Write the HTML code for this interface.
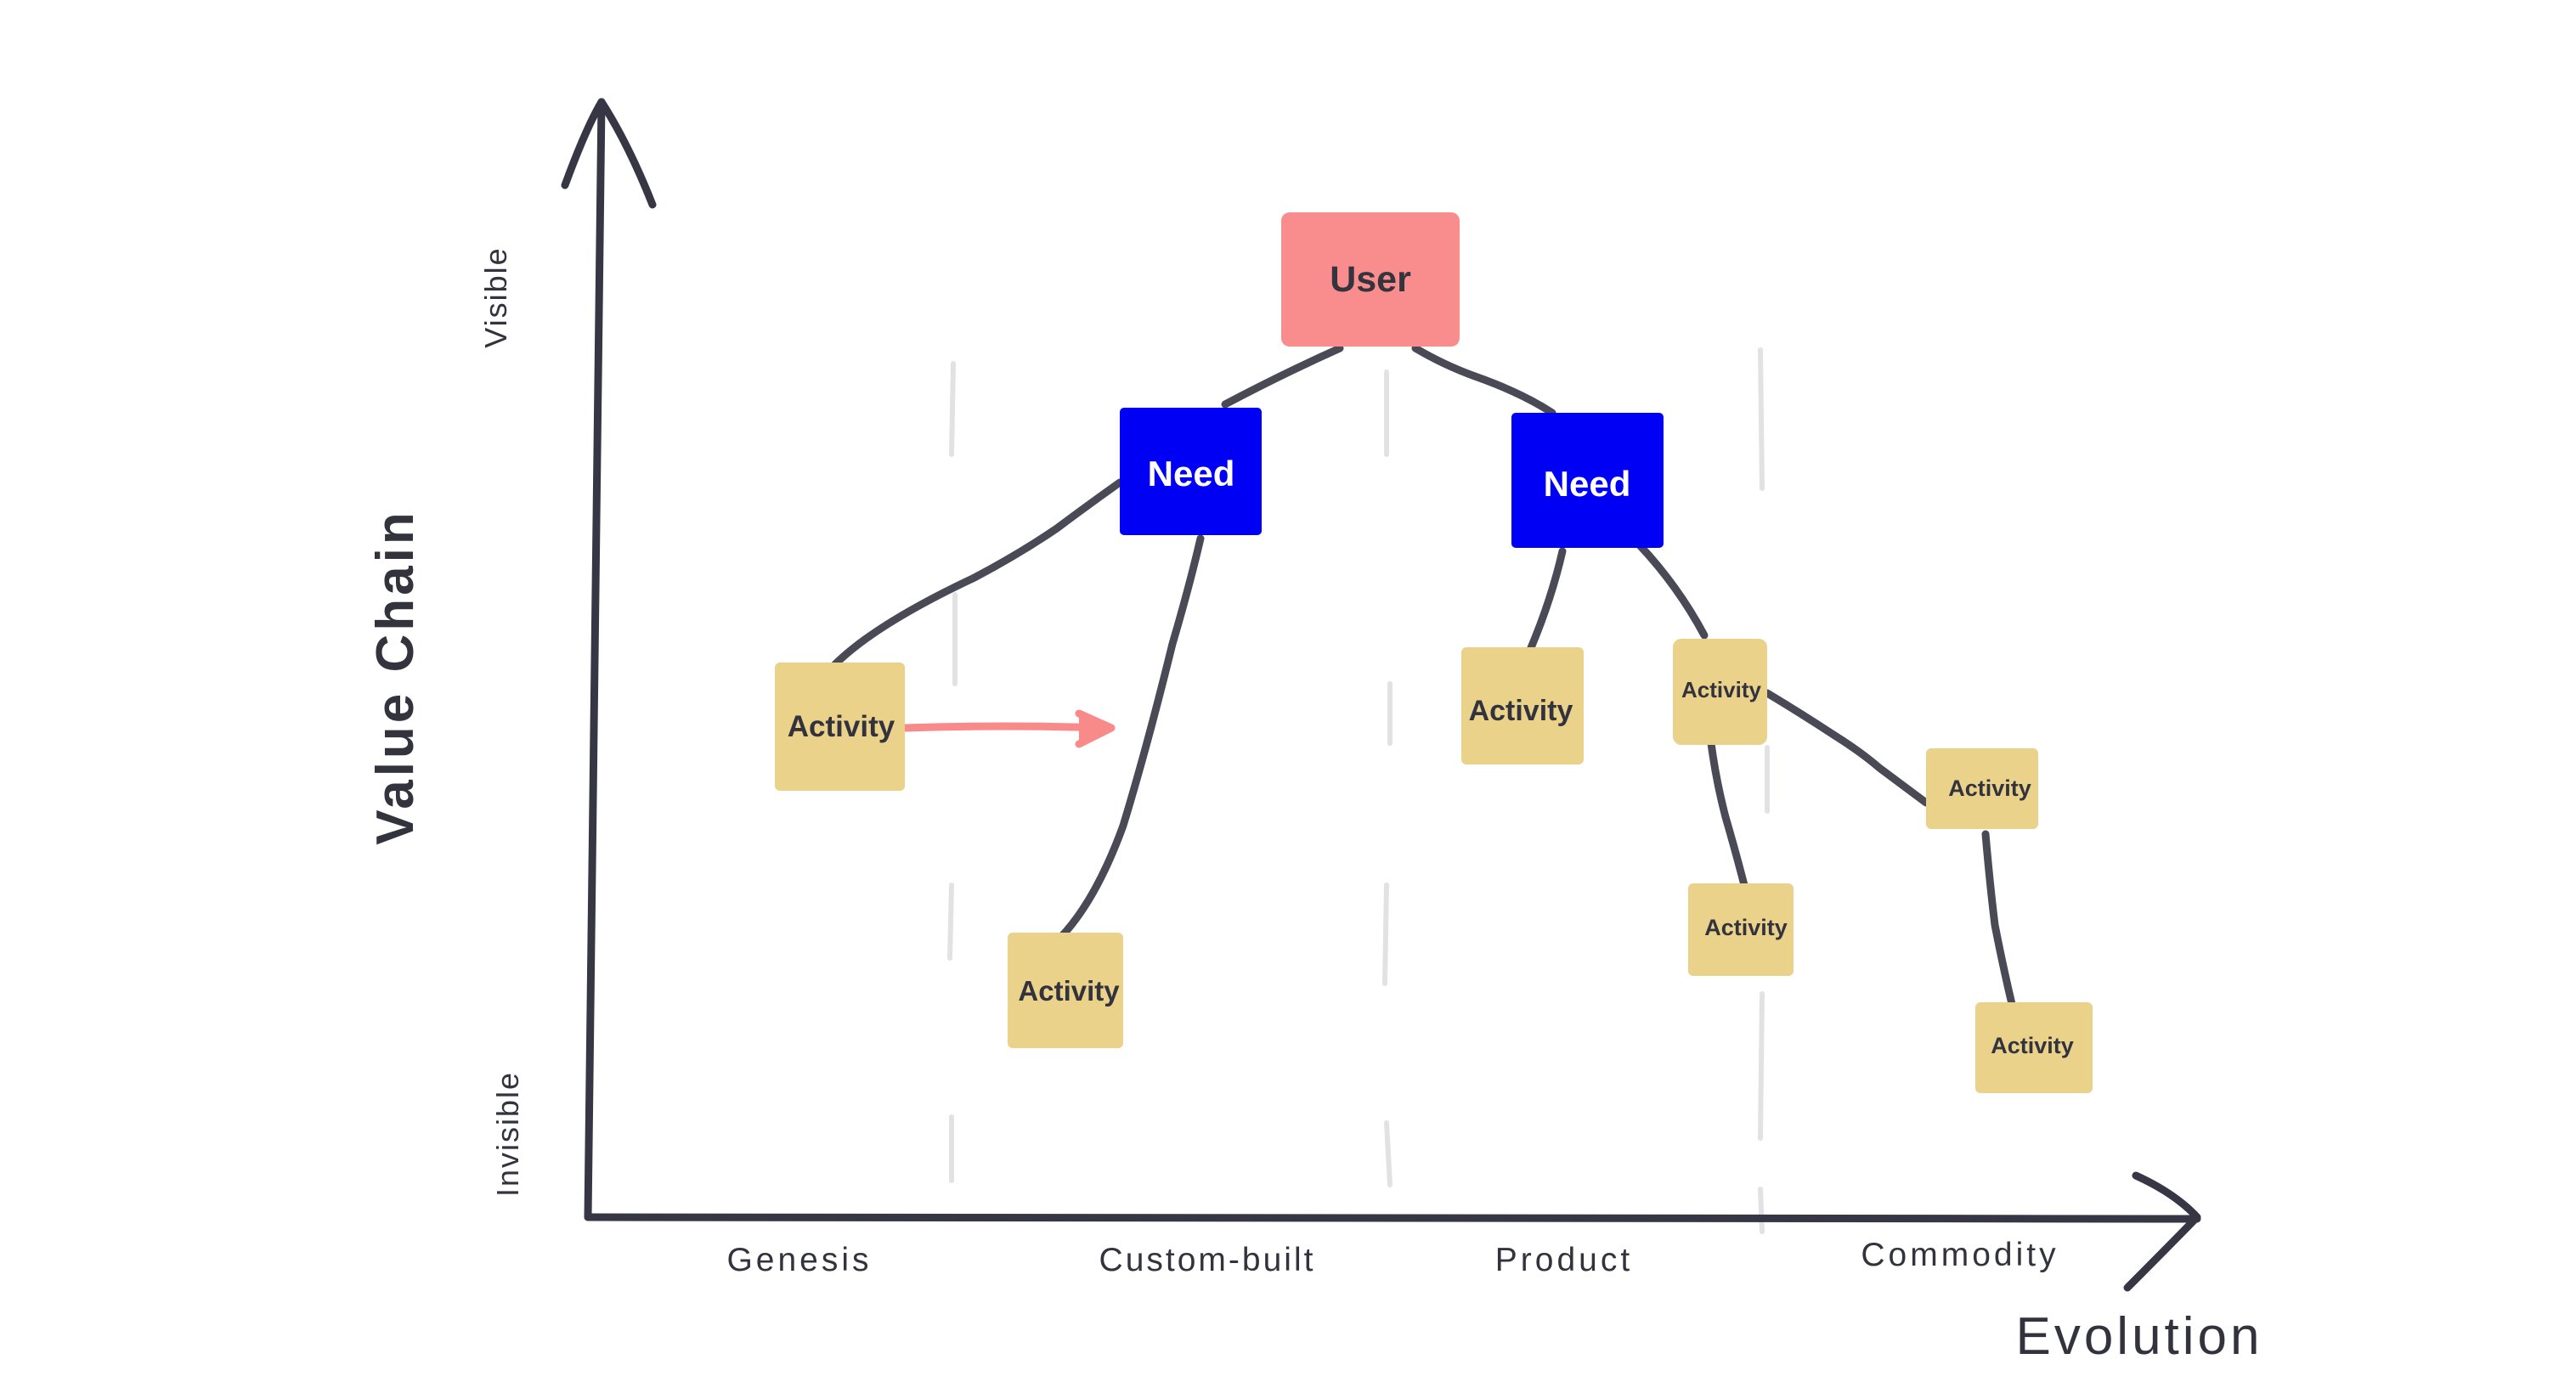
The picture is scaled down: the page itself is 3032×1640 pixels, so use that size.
<!DOCTYPE html>
<html><head><meta charset="utf-8"><style>
html,body{margin:0;padding:0;background:#fff;}
svg{display:block;}
</style></head><body>
<svg width="3032" height="1640" viewBox="0 0 3032 1640" xmlns="http://www.w3.org/2000/svg" font-family="Liberation Sans, sans-serif">
<rect width="3032" height="1640" fill="#fff"/>
<g stroke="#e2e2e4" stroke-width="6" stroke-linecap="round" fill="none">
<line x1="1122" y1="428" x2="1120" y2="535"/>
<line x1="1124" y1="700" x2="1124" y2="805"/>
<line x1="1120" y1="1042" x2="1118" y2="1128"/>
<line x1="1120" y1="1315" x2="1120" y2="1390"/>
<line x1="1632" y1="438" x2="1632" y2="535"/>
<line x1="1636" y1="805" x2="1636" y2="875"/>
<line x1="1632" y1="1042" x2="1630" y2="1158"/>
<line x1="1632" y1="1322" x2="1636" y2="1395"/>
<line x1="2072" y1="412" x2="2074" y2="575"/>
<line x1="2080" y1="880" x2="2080" y2="955"/>
<line x1="2074" y1="1170" x2="2072" y2="1340"/>
<line x1="2072" y1="1400" x2="2074" y2="1450"/>
</g>
<g stroke="#363645" stroke-width="9" stroke-linecap="round" stroke-linejoin="round" fill="none">
<path d="M692 1433 L708 120"/>
<path d="M665 218 Q690 150 708 120 Q740 170 768 241"/>
<path d="M692 1433 L2586 1435"/>
<path d="M2514 1384 Q2560 1405 2586 1433 Q2540 1480 2504 1516"/>
</g>
<g stroke="#4a4a56" stroke-width="9" stroke-linecap="round" stroke-linejoin="round" fill="none">
<path d="M1577 410 Q1510 440 1442 476"/>
<path d="M1666 410 Q1700 430 1736 443 Q1790 462 1827 486"/>
<path d="M1318 568 Q1280 595 1244 622 Q1200 652 1147 680 Q1030 735 982 783"/>
<path d="M1413 634 Q1400 690 1380 758 Q1350 880 1322 972 Q1290 1060 1248 1104"/>
<path d="M1839 649 Q1825 710 1798 772"/>
<path d="M1930 642 Q1975 690 2006 748"/>
<path d="M2080 816 Q2120 840 2158 865 Q2190 885 2212 904 Q2240 925 2267 945"/>
<path d="M2014 875 Q2020 920 2031 962 Q2045 1010 2055 1050"/>
<path d="M2337 982 Q2342 1040 2348 1089 Q2358 1140 2368 1182"/>
</g>
<g stroke="#f98a8a" stroke-width="9" stroke-linecap="round" stroke-linejoin="round" fill="none">
<path d="M1065 857 Q1180 853 1300 857"/>
<path d="M1270 840 L1308 857 L1270 876" fill="#f98a8a"/>
</g>
<rect x="1508" y="250" width="210" height="158" rx="10" fill="#f98d8d"/>
<text x="1613" y="343" font-size="43" font-weight="bold" fill="#34343f" text-anchor="middle">User</text>
<rect x="1318" y="480" width="167" height="150" rx="5" fill="#0000f5"/>
<text x="1402" y="572" font-size="42" font-weight="bold" fill="#fff" text-anchor="middle">Need</text>
<rect x="1779" y="486" width="179" height="159" rx="5" fill="#0000f5"/>
<text x="1868" y="584" font-size="42" font-weight="bold" fill="#fff" text-anchor="middle">Need</text>
<g fill="#ebd28a">
<rect x="912" y="780" width="153" height="151" rx="6"/>
<rect x="1186" y="1098" width="136" height="136" rx="6"/>
<rect x="1720" y="762" width="144" height="138" rx="6"/>
<rect x="1969" y="752" width="111" height="125" rx="10"/>
<rect x="2267" y="881" width="132" height="95" rx="6"/>
<rect x="1987" y="1040" width="124" height="109" rx="6"/>
<rect x="2325" y="1180" width="138" height="107" rx="6"/>
</g>
<g fill="#33333e" font-weight="bold" text-anchor="middle">
<text x="990" y="867" font-size="35">Activity</text>
<text x="1258" y="1178" font-size="33">Activity</text>
<text x="1790" y="848" font-size="34">Activity</text>
<text x="2026" y="821" font-size="26">Activity</text>
<text x="2342" y="937" font-size="27">Activity</text>
<text x="2055" y="1101" font-size="27">Activity</text>
<text x="2392" y="1240" font-size="27">Activity</text>
</g>
<g fill="#33333e">
<text transform="translate(596,350) rotate(-90)" font-size="36" letter-spacing="2" text-anchor="middle">Visible</text>
<text transform="translate(610,1335) rotate(-90)" font-size="36" letter-spacing="2" text-anchor="middle">Invisible</text>
<text transform="translate(486,797) rotate(-90)" font-size="62" font-weight="bold" letter-spacing="4" text-anchor="middle">Value Chain</text>
<text x="941" y="1496" font-size="39" letter-spacing="4" text-anchor="middle">Genesis</text>
<text x="1421" y="1496" font-size="39" letter-spacing="3" text-anchor="middle">Custom-built</text>
<text x="1841" y="1496" font-size="39" letter-spacing="4" text-anchor="middle">Product</text>
<text x="2307" y="1490" font-size="39" letter-spacing="4" text-anchor="middle">Commodity</text>
<text x="2518" y="1594" font-size="62" letter-spacing="4" text-anchor="middle">Evolution</text>
</g>
</svg>
</body></html>
